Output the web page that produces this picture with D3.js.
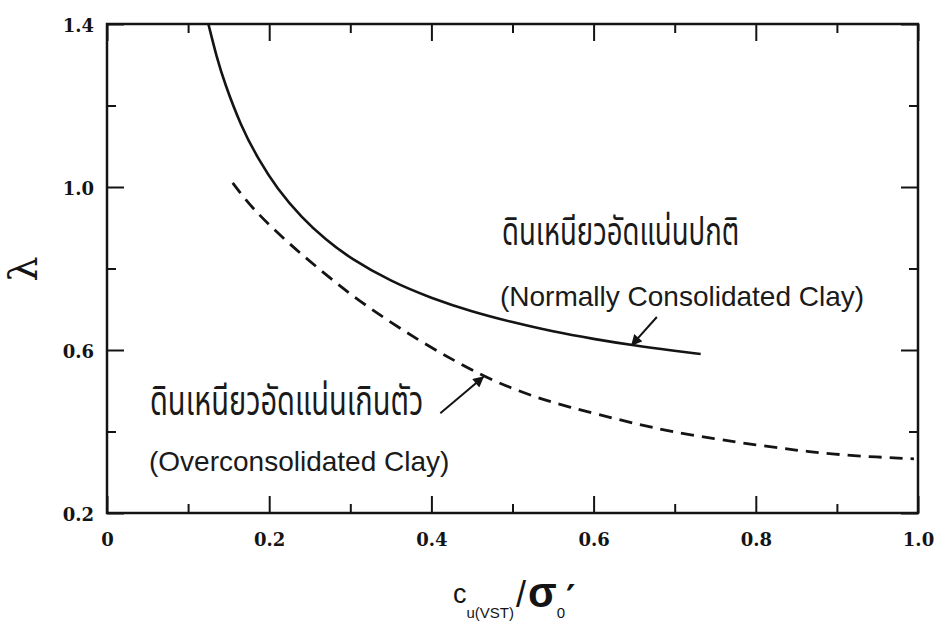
<!DOCTYPE html>
<html>
<head>
<meta charset="utf-8">
<script src="https://cdn.jsdelivr.net/npm/d3@7"></script>
<style>
  html, body { margin: 0; padding: 0; background: #fff; }
  svg { display: block; }
</style>
</head>
<body>
<svg id="chart" width="938" height="621"></svg>
<script>
// ---- data ----
const xMajorTicks = [0, 0.2, 0.4, 0.6, 0.8, 1.0];
const xTickLabels = ["0", "0.2", "0.4", "0.6", "0.8", "1.0"];
const xMinorTicks = [0.1, 0.3, 0.5, 0.7, 0.9];
const yMajorTicks = [0.2, 0.6, 1.0, 1.4];
const yTickLabels = ["0.2", "0.6", "1.0", "1.4"];
const yMinorTicks = [0.4, 0.8, 1.2];

// Normally consolidated clay (solid)
const ncX = [0.125, 0.135, 0.145, 0.165, 0.186, 0.21, 0.24, 0.27, 0.30, 0.35, 0.40, 0.45, 0.50, 0.55, 0.60, 0.65, 0.70, 0.732];
const ncY = [1.40, 1.32, 1.255, 1.15, 1.07, 0.995, 0.925, 0.87, 0.825, 0.768, 0.727, 0.694, 0.668, 0.645, 0.627, 0.611, 0.598, 0.59];
// Overconsolidated clay (dashed)
const ocX = [0.155, 0.18, 0.222, 0.263, 0.303, 0.345, 0.386, 0.427, 0.464, 0.50, 0.535, 0.57, 0.609, 0.65, 0.692, 0.75, 0.80, 0.85, 0.896, 0.95, 0.995];
const ocY = [1.01, 0.945, 0.865, 0.796, 0.732, 0.674, 0.622, 0.575, 0.536, 0.505, 0.48, 0.46, 0.44, 0.42, 0.401, 0.382, 0.367, 0.354, 0.344, 0.337, 0.333];

const ncLabelTh = "ดินเหนียวอัดแน่นปกติ";
const ncLabelEn = "(Normally Consolidated Clay)";
const ocLabelTh = "ดินเหนียวอัดแน่นเกินตัว";
const ocLabelEn = "(Overconsolidated Clay)";
// arrows [fromX, fromY, toX, toY] in data units
const ncArrow = [0.678, 0.681, 0.647, 0.612];
const ocArrow = [0.411, 0.445, 0.464, 0.534];

// ---- layout ----
const L = 107, R = 918, T = 24, B = 513;
const svg = d3.select("#chart");
const x = d3.scaleLinear().domain([0, 1]).range([L, R]);
const y = d3.scaleLinear().domain([0.2, 1.4]).range([B, T]);

const ink = "#141414";
const tickFont = "'DejaVu Serif', serif";
const textFont = "'Liberation Sans', Arial, 'Noto Sans Thai', Tahoma, sans-serif";

svg.append("defs").append("marker")
  .attr("id", "arrow").attr("viewBox", "0 0 10 10")
  .attr("refX", 9).attr("refY", 5)
  .attr("markerWidth", 6).attr("markerHeight", 5.5)
  .attr("markerUnits", "strokeWidth")
  .attr("orient", "auto")
  .append("path").attr("d", "M0,0 L10,5 L0,10 z").attr("fill", ink);

// frame
svg.append("rect").attr("x", L).attr("y", T).attr("width", R - L).attr("height", B - T)
  .attr("fill", "none").attr("stroke", ink).attr("stroke-width", 2.5);

const MAJ = 17, MIN = 9;
function axisTicks(axisGen, transform, size, vals) {
  const g = svg.append("g").attr("transform", transform)
    .call(axisGen.tickValues(vals).tickSize(size).tickFormat(""));
  g.select(".domain").remove();
  g.selectAll(".tick line").attr("stroke", ink).attr("stroke-width", 2);
  return g;
}
axisTicks(d3.axisBottom(x), `translate(0,${B})`, -MAJ, xMajorTicks);
axisTicks(d3.axisBottom(x), `translate(0,${B})`, -MIN, xMinorTicks);
axisTicks(d3.axisTop(x), `translate(0,${T})`, -MAJ, xMajorTicks);
axisTicks(d3.axisTop(x), `translate(0,${T})`, -MIN, xMinorTicks);
axisTicks(d3.axisLeft(y), `translate(${L},0)`, -MAJ, yMajorTicks);
axisTicks(d3.axisLeft(y), `translate(${L},0)`, -MIN, yMinorTicks);
axisTicks(d3.axisRight(y), `translate(${R},0)`, -MAJ, yMajorTicks);
axisTicks(d3.axisRight(y), `translate(${R},0)`, -MIN, yMinorTicks);

// tick labels
const xl = svg.append("g").attr("transform", `translate(0,${B})`)
  .call(d3.axisBottom(x).tickValues(xMajorTicks).tickSize(0).tickPadding(20)
    .tickFormat((d, i) => xTickLabels[i]));
xl.select(".domain").remove();
xl.selectAll("text").attr("font-family", tickFont).attr("font-weight", "bold")
  .attr("font-size", 18).attr("fill", ink);

const yl = svg.append("g").attr("transform", `translate(${L},0)`)
  .call(d3.axisLeft(y).tickValues(yMajorTicks).tickSize(0).tickPadding(13)
    .tickFormat((d, i) => yTickLabels[i]));
yl.select(".domain").remove();
yl.selectAll("text").attr("font-family", tickFont).attr("font-weight", "bold")
  .attr("font-size", 18).attr("fill", ink).attr("dy", "0.42em");

// curves
const line = d3.line().x(d => x(d[0])).y(d => y(d[1])).curve(d3.curveBasis);
svg.append("path").datum(ncX.map((v, i) => [v, ncY[i]]))
  .attr("d", line).attr("fill", "none").attr("stroke", ink).attr("stroke-width", 2.6);
svg.append("path").datum(ocX.map((v, i) => [v, ocY[i]]))
  .attr("d", line).attr("fill", "none").attr("stroke", ink).attr("stroke-width", 2.8)
  .attr("stroke-dasharray", "13,8");

// arrows
[ncArrow, ocArrow].forEach(a => {
  svg.append("line")
    .attr("x1", x(a[0])).attr("y1", y(a[1])).attr("x2", x(a[2])).attr("y2", y(a[3]))
    .attr("stroke", ink).attr("stroke-width", 2).attr("marker-end", "url(#arrow)");
});

// annotation texts
function label(txt, px, py, fs, sy) {
  svg.append("text").attr("transform", `translate(${px},${py}) scale(1,${sy})`).text(txt)
    .attr("font-family", textFont).attr("font-size", fs).attr("fill", "#1a1a1a");
}
label(ncLabelTh, 502, 245, 27.5, 1.4);
label(ncLabelEn, 500, 306, 28, 1);
label(ocLabelTh, 150, 415, 29, 1.4);
label(ocLabelEn, 149, 471, 28, 1);

// y-axis label (rotated lambda)
svg.append("text").attr("transform", "translate(37,269) rotate(-90)")
  .attr("text-anchor", "middle").attr("font-family", "'DejaVu Serif', serif")
  .attr("font-size", 40).attr("fill", ink).text("λ");

// x-axis label
const xt = svg.append("text").attr("x", 453).attr("y", 603)
  .attr("font-family", textFont).attr("fill", ink);
xt.append("tspan").attr("font-size", 27).text("c");
xt.append("tspan").attr("font-size", 15).attr("dy", 15).text("u(VST)");
xt.append("tspan").attr("font-size", 36).attr("dy", -11).attr("dx", 2).text("/");
xt.append("tspan").attr("font-size", 42).attr("font-weight", "bold").attr("dy", 0).attr("dx", 2).text("σ");
xt.append("tspan").attr("font-size", 15).attr("dy", 11).text("0");
xt.append("tspan").attr("font-size", 36).attr("font-weight", "bold")
  .attr("font-family", "'DejaVu Sans', sans-serif")
  .attr("dy", -8).attr("dx", 1).text("′");
</script>
</body>
</html>
